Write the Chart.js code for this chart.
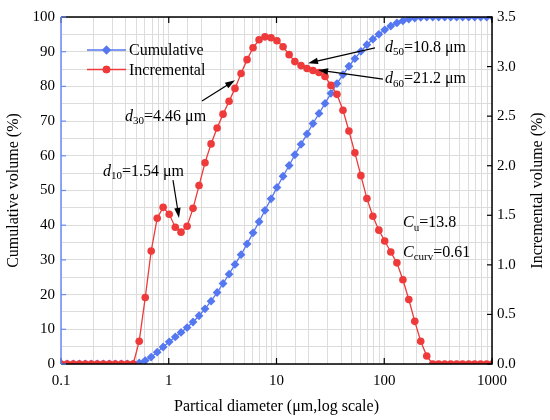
<!DOCTYPE html>
<html>
<head>
<meta charset="utf-8">
<script src="https://cdn.jsdelivr.net/npm/chart.js@4.4.1/dist/chart.umd.min.js"></script>
<style>
  html, body { margin: 0; padding: 0; background: #fff; }
  #wrap { width: 550px; height: 420px; position: relative; }
</style>
</head>
<body>
<div id="wrap"><canvas id="chart"></canvas></div>
<script>
// ── DATA ──
const diameters = [
  0.100, 0.114, 0.130, 0.148, 0.168, 0.191, 0.217, 0.247, 0.281, 0.319,
  0.363, 0.412, 0.468, 0.532, 0.605, 0.687, 0.781, 0.887, 1.01, 1.15,
  1.30, 1.48, 1.68, 1.91, 2.17, 2.47, 2.81, 3.19, 3.63, 4.12,
  4.69, 5.33, 6.06, 6.89, 7.82, 8.90, 10.1, 11.5, 13.1, 14.8,
  16.9, 19.2, 21.8, 24.8, 28.2, 32.0, 36.4, 41.4, 47.0, 53.4,
  60.7, 69.0, 78.4, 89.1, 101, 115, 131, 149, 169, 192,
  218, 248, 282, 320, 364, 414, 470, 534, 608, 691,
  785, 892, 1010
];
const cumulative = [
  0, 0, 0, 0, 0, 0, 0, 0, 0, 0,
  0, 0, 0, 0.3, 1.0, 2.0, 3.4, 4.9, 6.4, 7.8,
  9.1, 10.5, 12.1, 13.9, 15.9, 18.1, 20.6, 23.2, 25.9, 28.7,
  31.5, 34.6, 37.8, 41.0, 44.3, 47.6, 50.9, 54.1, 57.2, 60.3,
  63.3, 66.3, 69.3, 72.2, 75.1, 78.0, 80.8, 83.4, 85.8, 88.0,
  90.1, 92.0, 93.6, 95.0, 96.3, 97.4, 98.3, 98.9, 99.4, 99.7,
  99.9, 100, 100, 100, 100, 100, 100, 100, 100, 100,
  100, 100, 100
];
const incremental = [
  0, 0, 0, 0, 0, 0, 0, 0, 0, 0,
  0, 0, 0, 0.23, 0.67, 1.14, 1.47, 1.58, 1.51, 1.38,
  1.33, 1.39, 1.57, 1.80, 2.03, 2.22, 2.38, 2.52, 2.65, 2.78,
  2.93, 3.07, 3.19, 3.27, 3.30, 3.29, 3.26, 3.20, 3.12, 3.05,
  3.01, 2.98, 2.96, 2.94, 2.90, 2.81, 2.72, 2.56, 2.35, 2.13,
  1.90, 1.67, 1.49, 1.35, 1.24, 1.13, 1.02, 0.85, 0.65, 0.43,
  0.23, 0.08, 0, 0, 0, 0, 0, 0, 0, 0,
  0, 0, 0
];
const xMajorTicks = [0.1, 1, 10, 100, 1000];
const leftTicks = [0, 10, 20, 30, 40, 50, 60, 70, 80, 90, 100];
const rightTicks = [0, 0.5, 1.0, 1.5, 2.0, 2.5, 3.0, 3.5];

// ── STYLE ──
const BLUE = '#5577F0';
const BLUE_AXIS = '#6A8BF7';
const RED = '#EE3A3A';
const GRID = '#DCDCDC';
const SERIF = "'Liberation Serif', 'DejaVu Serif', serif";

// annotations, anchored in data units (x: µm, y: cumulative %)
const labels = [
  { x: 0.245, y: 55.3, parts: [['d', 'i'], ['10', 's'], ['=1.54 μm', 'n']], arrow: [1.095, 53.0, 1.245, 42.1] },
  { x: 0.393, y: 71.2, parts: [['d', 'i'], ['30', 's'], ['=4.46 μm', 'n']], arrow: [2.035, 75.8, 4.12, 81.8] },
  { x: 101.6, y: 91.1, parts: [['d', 'i'], ['50', 's'], ['=10.8 μm', 'n']], arrow: [82.0, 91.1, 19.6, 86.7] },
  { x: 101.6, y: 82.1, parts: [['d', 'i'], ['60', 's'], ['=21.2 μm', 'n']], arrow: [97.3, 82.1, 24.3, 84.7] },
  { x: 149.3, y: 40.6, parts: [['C', 'i'], ['u', 's'], ['=13.8', 'n']] },
  { x: 149.3, y: 32.0, parts: [['C', 'i'], ['curv', 's'], ['=0.61', 'n']] }
];

const isPow10 = v => Math.abs(Math.log10(v) - Math.round(Math.log10(v))) < 1e-9;

// ── FRAME: borders + inward ticks + right title ──
const framePlugin = {
  id: 'frame',
  afterDraw(chart) {
    const { ctx, chartArea: a, scales } = chart;
    ctx.save();
    ctx.lineWidth = 1.5;
    // top / right / bottom in black
    ctx.strokeStyle = '#000';
    ctx.beginPath();
    ctx.moveTo(a.left, a.top); ctx.lineTo(a.right, a.top);
    ctx.lineTo(a.right, a.bottom); ctx.lineTo(a.left, a.bottom);
    ctx.stroke();
    ctx.lineWidth = 1.2;
    xMajorTicks.forEach(v => {
      const px = scales.x.getPixelForValue(v);
      ctx.beginPath();
      ctx.moveTo(px, a.bottom); ctx.lineTo(px, a.bottom - 6);
      ctx.moveTo(px, a.top); ctx.lineTo(px, a.top + 6);
      ctx.stroke();
    });
    rightTicks.forEach(v => {
      const py = scales.y2.getPixelForValue(v);
      ctx.beginPath();
      ctx.moveTo(a.right, py); ctx.lineTo(a.right - 5, py);
      ctx.stroke();
    });
    // left axis in blue
    ctx.strokeStyle = BLUE_AXIS;
    ctx.lineWidth = 1.5;
    ctx.beginPath();
    ctx.moveTo(a.left, a.top); ctx.lineTo(a.left, a.bottom);
    ctx.stroke();
    ctx.lineWidth = 1.2;
    leftTicks.forEach(v => {
      const py = scales.y.getPixelForValue(v);
      ctx.beginPath();
      ctx.moveTo(a.left, py); ctx.lineTo(a.left + 5, py);
      ctx.stroke();
    });
    // right axis title (reads bottom to top)
    ctx.fillStyle = '#000';
    ctx.font = '16px ' + SERIF;
    ctx.textAlign = 'center';
    ctx.textBaseline = 'middle';
    ctx.translate(538, (a.top + a.bottom) / 2);
    ctx.rotate(-Math.PI / 2);
    ctx.fillText('Incremental volume (%)', 0, 0);
    ctx.restore();
  }
};

// ── LEGEND inside the plot ──
const legendPlugin = {
  id: 'innerLegend',
  afterDraw(chart) {
    const { ctx, chartArea: a } = chart;
    const items = [chart.data.datasets[1], chart.data.datasets[0]];
    ctx.save();
    items.forEach((ds, i) => {
      const y = a.top + 33 + i * 19.5;
      const x0 = a.left + 26, x1 = a.left + 65;
      ctx.strokeStyle = ds.borderColor;
      ctx.lineWidth = ds.borderWidth;
      ctx.beginPath(); ctx.moveTo(x0, y); ctx.lineTo(x1, y); ctx.stroke();
      ctx.fillStyle = ds.backgroundColor;
      Chart.helpers.drawPoint(ctx, {
        pointStyle: ds.pointStyle, radius: ds.pointRadius, rotation: 0, borderWidth: 0
      }, (x0 + x1) / 2, y);
      ctx.fill();
      ctx.fillStyle = '#000';
      ctx.font = '16px ' + SERIF;
      ctx.textAlign = 'left';
      ctx.textBaseline = 'middle';
      ctx.fillText(ds.label, x1 + 3, y + 1);
    });
    ctx.restore();
  }
};

// ── ANNOTATIONS ──
function drawRich(ctx, parts, x, y) {
  let cx = x;
  parts.forEach(([t, kind]) => {
    if (kind === 's') {
      ctx.font = '11px ' + SERIF;
      ctx.fillText(t, cx, y + 4.5);
    } else {
      ctx.font = (kind === 'i' ? 'italic ' : '') + '16px ' + SERIF;
      ctx.fillText(t, cx, y);
    }
    cx += ctx.measureText(t).width;
  });
}

function drawArrow(ctx, x1, y1, x2, y2) {
  const ang = Math.atan2(y2 - y1, x2 - x1);
  const len = 10, half = 3.2;
  ctx.beginPath();
  ctx.moveTo(x1, y1);
  ctx.lineTo(x2 - Math.cos(ang) * len * 0.8, y2 - Math.sin(ang) * len * 0.8);
  ctx.stroke();
  ctx.beginPath();
  ctx.moveTo(x2, y2);
  ctx.lineTo(x2 - Math.cos(ang) * len + Math.sin(ang) * half, y2 - Math.sin(ang) * len - Math.cos(ang) * half);
  ctx.lineTo(x2 - Math.cos(ang) * len - Math.sin(ang) * half, y2 - Math.sin(ang) * len + Math.cos(ang) * half);
  ctx.closePath();
  ctx.fill();
}

const annotationPlugin = {
  id: 'notes',
  afterDraw(chart) {
    const { ctx, scales } = chart;
    const X = v => scales.x.getPixelForValue(v);
    const Y = v => scales.y.getPixelForValue(v);
    ctx.save();
    ctx.fillStyle = '#000';
    ctx.strokeStyle = '#000';
    ctx.lineWidth = 1.2;
    ctx.textAlign = 'left';
    ctx.textBaseline = 'middle';
    labels.forEach(l => {
      drawRich(ctx, l.parts, X(l.x), Y(l.y));
      if (l.arrow) {
        const [ax, ay, bx, by] = l.arrow;
        drawArrow(ctx, X(ax), Y(ay), X(bx), Y(by));
      }
    });
    ctx.restore();
  }
};

// ── CHART ──
const tickFont = { family: SERIF, size: 15 };
const ctx = document.getElementById('chart').getContext('2d');
new Chart(ctx, {
  type: 'line',
  data: {
    datasets: [
      {
        label: 'Incremental',
        data: diameters.map((d, i) => ({ x: d, y: incremental[i] })),
        yAxisID: 'y2',
        borderColor: RED,
        backgroundColor: RED,
        borderWidth: 1.3,
        pointStyle: 'circle',
        pointRadius: 3.8,
        pointBorderWidth: 0,
        tension: 0,
        order: 0
      },
      {
        label: 'Cumulative',
        data: diameters.map((d, i) => ({ x: d, y: cumulative[i] })),
        yAxisID: 'y',
        borderColor: BLUE,
        backgroundColor: BLUE,
        borderWidth: 1.3,
        pointStyle: 'rectRot',
        pointRadius: 4.4,
        pointBorderWidth: 0,
        tension: 0,
        order: 1
      }
    ]
  },
  options: {
    responsive: true,
    maintainAspectRatio: false,
    animation: false,
    layout: { padding: { top: 17, left: 0, right: 0, bottom: 0 } },
    plugins: { legend: { display: false }, tooltip: { enabled: false } },
    scales: {
      x: {
        type: 'logarithmic',
        min: 0.1,
        max: 1000,
        grid: { color: GRID, lineWidth: 1, drawTicks: false },
        border: { display: false },
        ticks: {
          autoSkip: false, maxRotation: 0, padding: 8,
          color: '#000', font: tickFont,
          callback: v => isPow10(v) ? String(v) : ''
        },
        title: {
          display: true, text: 'Partical diameter (μm,log scale)',
          color: '#000', font: { family: SERIF, size: 16 },
          padding: { top: 0, bottom: 4 }
        },
        afterFit: s => { s.height = 56; }
      },
      y: {
        position: 'left',
        min: 0,
        max: 100,
        grid: { color: GRID, lineWidth: 1, drawTicks: false },
        border: { display: false },
        ticks: {
          stepSize: 5, autoSkip: false, padding: 6,
          color: '#000', font: tickFont,
          callback: v => v % 10 === 0 ? String(v) : ''
        },
        title: {
          display: true, text: 'Cumulative volume (%)',
          color: '#000', font: { family: SERIF, size: 16 },
          padding: { top: 4, bottom: 0 }
        },
        afterFit: s => { s.width = 61; }
      },
      y2: {
        position: 'right',
        min: 0,
        max: 3.5,
        grid: { display: false, drawTicks: false },
        border: { display: false },
        ticks: {
          stepSize: 0.5, autoSkip: false, padding: 5,
          color: '#000', font: tickFont,
          callback: v => v.toFixed(1)
        },
        afterFit: s => { s.width = 58; }
      }
    }
  },
  plugins: [framePlugin, legendPlugin, annotationPlugin]
});
</script>
</body>
</html>
